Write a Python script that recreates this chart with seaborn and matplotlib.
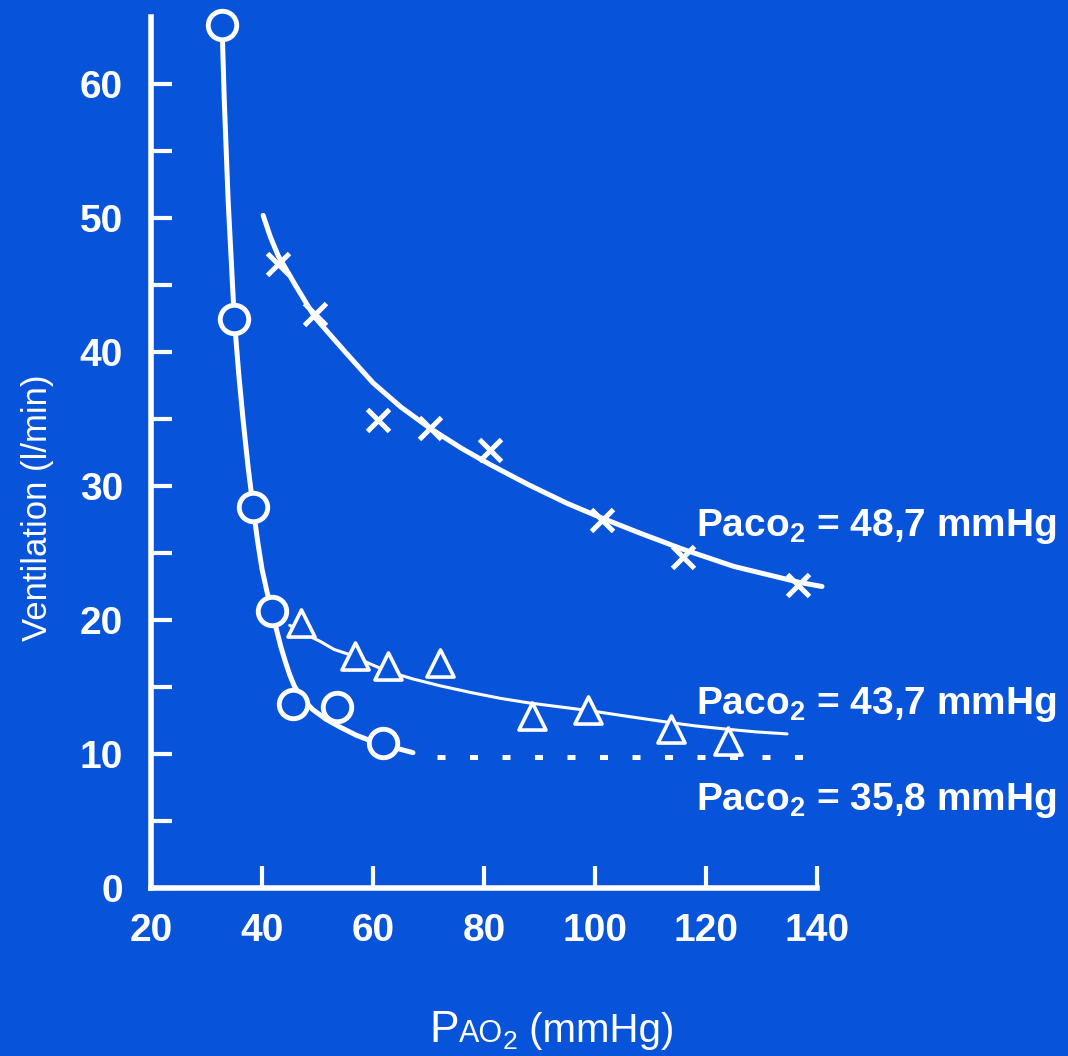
import matplotlib
matplotlib.use("Agg")
import matplotlib.pyplot as plt
import seaborn as sns
import pandas as pd

# ---------------- data ----------------
# PaCO2 = 35,8 mmHg  (circles)
circ_pao2 = [32.8, 35.0, 38.4, 41.8, 45.6, 53.5, 61.8]
circ_vent = [64.4, 42.5, 28.4, 20.7, 13.7, 13.5, 10.8]
curve358_x = [32.8, 33.2, 33.9, 35.0, 35.8, 36.6, 37.5, 38.4, 39.2, 40.0, 40.9,
              41.8, 42.6, 43.4, 44.2, 45.0, 45.8, 46.8, 48.0, 49.2, 51.5, 54.1,
              57.0, 59.5, 61.8, 64.5, 67.2]
curve358_y = [64.4, 58.8, 51.3, 42.5, 38.4, 34.9, 31.4, 28.4, 25.9, 23.8, 22.1,
              20.7, 19.3, 18.0, 16.9, 15.9, 15.1, 14.4, 13.8, 13.3, 12.6, 12.0,
              11.4, 11.0, 10.7, 10.4, 10.1]
dash358_x = [71.6, 139.5]
dash358_y = [9.8, 9.8]

# PaCO2 = 43,7 mmHg  (triangles)
tri_pao2 = [47.0, 56.8, 62.7, 72.1, 88.6, 98.7, 113.7, 124.0]
tri_vent = [19.8, 17.3, 16.6, 16.8, 12.8, 13.3, 11.9, 11.0]
curve437_x = [45.0, 47.5, 50.5, 53.0, 55.9, 58.5, 61.3, 64.0, 67.2, 72.0, 77.5,
              83.0, 88.3, 94.0, 99.6, 106.0, 113.5, 118.0, 123.8, 129.0, 134.6]
curve437_y = [19.6, 19.0, 18.4, 17.8, 17.4, 16.9, 16.4, 16.0, 15.6, 15.1, 14.6,
              14.15, 13.8, 13.5, 13.2, 12.8, 12.35, 12.1, 11.85, 11.65, 11.5]

# PaCO2 = 48,7 mmHg  (crosses)
x_pao2 = [42.9, 49.5, 60.9, 70.3, 81.1, 101.3, 115.9, 136.6]
x_vent = [46.6, 42.8, 34.9, 34.3, 32.7, 27.5, 24.7, 22.6]
curve487_x = [40.2, 41.5, 42.9, 46.0, 49.5, 55.0, 60.0, 65.0, 70.3, 76.0, 81.1,
              88.0, 95.0, 101.3, 108.0, 115.7, 125.0, 136.9, 140.9]
curve487_y = [50.2, 48.6, 47.2, 45.0, 42.6, 40.0, 37.7, 35.9, 34.3, 32.8, 31.6,
              30.1, 28.7, 27.6, 26.5, 25.3, 24.0, 22.8, 22.5]

x_ticks = [20, 40, 60, 80, 100, 120, 140]
y_ticks = [0, 10, 20, 30, 40, 50, 60]
y_minor = [5, 15, 25, 35, 45, 55]
series_labels = ["48,7", "43,7", "35,8"]

# ---------------- style ----------------
BG = "#0753D9"
FG = "white"
sns.set_theme(style="white")
plt.rcParams["font.family"] = ["Liberation Sans", "DejaVu Sans"]
plt.rcParams["mathtext.fontset"] = "custom"
plt.rcParams["mathtext.rm"] = "Liberation Sans:bold"
plt.rcParams["mathtext.it"] = "Liberation Sans:italic"
plt.rcParams["mathtext.bf"] = "Liberation Sans:bold"

fig = plt.figure(figsize=(10.68, 10.56), dpi=100, facecolor=BG)
ax = fig.add_axes([151 / 1068, 1 - 888 / 1056, 666 / 1068, 871 / 1056])
ax.set_facecolor(BG)

# curves
sns.lineplot(x=curve358_x, y=curve358_y, sort=False, estimator=None, color=FG,
             lw=3.6, ax=ax, clip_on=False, zorder=3)
sns.lineplot(x=dash358_x, y=dash358_y, sort=False, estimator=None, color=FG,
             lw=3.6, ax=ax, clip_on=False, zorder=3, linestyle=(0, (1.6, 4.9)))
sns.lineplot(x=curve437_x, y=curve437_y, sort=False, estimator=None, color=FG,
             lw=2.2, ax=ax, clip_on=False, zorder=3)
sns.lineplot(x=curve487_x, y=curve487_y, sort=False, estimator=None, color=FG,
             lw=3.6, ax=ax, clip_on=False, zorder=3)

# markers
sns.scatterplot(x=circ_pao2, y=circ_vent, marker="o", s=420, color=BG,
                edgecolor=FG, linewidth=3.5, ax=ax, clip_on=False, zorder=5)
sns.scatterplot(x=tri_pao2, y=tri_vent, marker="^", s=380, color=BG,
                edgecolor=FG, linewidth=2.6, ax=ax, clip_on=False, zorder=5)
sns.scatterplot(x=x_pao2, y=x_vent, marker="x", s=250, color=FG,
                linewidth=3.6, ax=ax, clip_on=False, zorder=5)

# axes
ax.set_xlim(20, 140)
ax.set_ylim(0, 65)
for s in ["top", "right"]:
    ax.spines[s].set_visible(False)
for s in ["left", "bottom"]:
    ax.spines[s].set_color(FG)
    ax.spines[s].set_linewidth(4)
ax.set_xticks(x_ticks)
ax.set_xticklabels([str(v) for v in x_ticks])
ax.set_yticks(y_ticks)
ax.set_yticklabels([str(v) for v in y_ticks])
ax.set_yticks(y_minor, minor=True)
ax.tick_params(axis="y", which="both", left=True, direction="in", length=15,
               width=3, colors=FG, labelsize=28, pad=20)
ax.tick_params(axis="x", which="both", bottom=True, direction="in", length=16,
               width=3, colors=FG, labelsize=28, pad=18)
for lab in ax.get_xticklabels() + ax.get_yticklabels():
    lab.set_fontweight("bold")
ax.set_xlabel("")
ax.set_ylabel("")

# series labels
label_y = [536, 714, 810]
for txt, yp in zip(series_labels, label_y):
    fig.text(696 / 1068, 1 - yp / 1056,
             r"Paco$_\mathregular{2}$ = " + txt + " mmHg",
             color=FG, fontsize=28, fontweight="bold", ha="left", va="baseline")

# y label
fig.text(38 / 1068, 1 - 508 / 1056, "Ventilation (l/min)", rotation=90,
         color=FG, fontsize=25, ha="center", va="center")

# x label: P AO 2 (mmHg) with small caps and subscript
fig.canvas.draw()
r = fig.canvas.get_renderer()
base = 1 - 1042 / 1056
parts = [("P", 32, 0), ("AO", 22, 0), ("2", 19, -7), (" (mmHg)", 29, 0)]
xpix = 429
for t, fs, dy in parts:
    tt = fig.text(xpix / 1068, base + dy / 1056, t, color=FG, fontsize=fs,
                  ha="left", va="baseline")
    bb = tt.get_window_extent(r)
    xpix = bb.x1

fig.savefig("out.png", dpi=100, facecolor=BG)
